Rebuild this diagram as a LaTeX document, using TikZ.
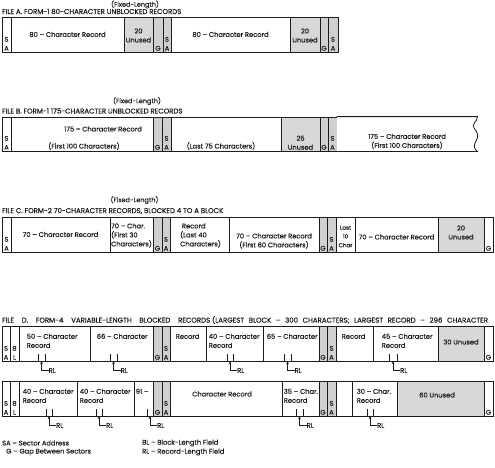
\documentclass[tikz,border=0pt]{standalone}
\usepackage{fontspec}
\setmainfont{Poppins}[FakeBold=0.4]
\usetikzlibrary{arrows.meta, fit, calc}
\definecolor{inkc}{RGB}{28,28,28}
\definecolor{unusedc}{RGB}{216,216,216}
\definecolor{gapc}{RGB}{208,208,208}
\tikzset{
  cellbox/.style={rectangle, draw=inkc, line width=0.8pt, inner sep=0pt, fill=white},
  unused/.style={cellbox, fill=unusedc},
  gapcell/.style={cellbox, fill=gapc},
  txt/.style={font=\fontsize{6.7}{9}\selectfont, text=inkc, inner sep=0pt, align=center},
  ltxt/.style={txt, align=left},
  tinytxt/.style={txt, font=\fontsize{5.6}{8.8}\selectfont},
  head/.style={font=\fontsize{7}{8}\selectfont, text=inkc, inner sep=0pt, anchor=west},
  fixlbl/.style={font=\fontsize{6.5}{8}\selectfont, text=inkc, inner sep=0pt},
  legend/.style={txt, anchor=west},
  tickln/.style={draw=inkc, line width=0.5pt},
  rlarr/.style={-{Stealth[length=3.2pt, width=2.6pt]}, draw=inkc, line width=0.55pt},
}
% current row: top and bottom edge
\newcommand{\rowat}[2]{\def\rtop{#1}\def\rbot{#2}}
\newcommand{\cel}[4][]{\node[cellbox, #1, fit={(#3,\rtop) (#4,\rbot)}] (#2) {};}
\newcommand{\cellow}[2]{\node[txt, anchor=south] (#1t) at ($(#1.south)+(0,-1.5)$) {#2};}
\newcommand{\celup}[3]{\node[ltxt, anchor=north west] (#1t) at ($(#1.north west)+(#2,8)$) {#3};}
% record-length field: ticks, arrow and label
\newcommand{\rlmark}[3]{%
  \foreach \tx in {#2} {\draw[tickln] (\tx,\rbot) -- (\tx,\rbot-7);}
  \coordinate (#1tip) at (#3,\rbot);
  \node[txt, anchor=west] (#1) at (#3+7,\rbot+9.5) {RL};
  \draw[rlarr] (#1.west) -| (#1tip);}

\begin{document}
\begin{tikzpicture}[x=1pt, y=-1pt]
  \useasboundingbox (0,0) rectangle (495,467);

  % file A
  \node[fixlbl] (fixa) at (135,4.5) {(Fixed-Length)};
  \node[head] (heada) at (2,11.5) {FILE A. FORM-1 80-CHARACTER UNBLOCKED RECORDS};
  \rowat{17}{52}
  \cel{asa1}{2}{11} \cellow{asa1}{S\\A}
  \cel{arec1}{11}{124} \node[txt] (arec1t) at (arec1) {80 -- Character Record};
  \cel[unused]{aunu1}{124}{153} \node[txt] (aunu1t) at ($(aunu1)+(0,1)$) {20\\Unused};
  \cel[gapcell]{agap1}{153}{163} \cellow{agap1}{G}
  \cel[gapcell]{asa2}{163}{171} \cellow{asa2}{S\\A}
  \cel{arec2}{171}{290} \node[txt] (arec2t) at (arec2) {80 -- Character Record};
  \cel[unused]{aunu2}{290}{320} \node[txt] (aunu2t) at ($(aunu2)+(0,1)$) {20\\Unused};
  \cel[gapcell]{agap2}{320}{328} \cellow{agap2}{G}
  \cel[gapcell]{asa3}{328}{338} \cellow{asa3}{S\\A}

  % file B
  \node[fixlbl] (fixb) at (137,101) {(Fixed-Length)};
  \node[head] (headb) at (2,111) {FILE B. FORM-1 175-CHARACTER UNBLOCKED RECORDS};
  \rowat{117}{151}
  \cel{bsa1}{2}{11} \cellow{bsa1}{S\\A}
  \cel{brec1}{11}{153}
  \node[txt] (brec1a) at (103,129) {175 -- Character Record};
  \node[txt] (brec1b) at (84,146) {(First 100 Characters)};
  \cel[gapcell]{bgap1}{153}{162} \cellow{bgap1}{G}
  \cel[gapcell]{bsa2}{162}{171} \cellow{bsa2}{S\\A}
  \cel{brec2}{171}{281} \node[txt] (brec2t) at (221,146) {(Last 75 Characters)};
  \cel[unused]{bunu1}{281}{320} \cellow{bunu1}{25\\Unused}
  \cel[gapcell]{bgap2}{320}{328} \cellow{bgap2}{G}
  \cel[gapcell]{bsa3}{328}{337} \cellow{bsa3}{S\\A}
  \cel[draw=none]{brec3}{337}{477}
  \node[txt] (brec3t) at (407,141.5) {175 -- Character Record\\(First 100 Characters)};
  \draw[draw=inkc, line width=0.8pt] (brec3.south west) -- (brec3.south east)
    .. controls (473,148) and (474,145) .. (476,141)
    .. controls (479,136) and (478,133) .. (474,128)
    .. controls (471,124) and (478,121) .. (brec3.north east) -- (brec3.north west);

  % file C
  \node[fixlbl] (fixc) at (134.5,200) {(Fixed-Length)};
  \node[head] (headc) at (2,211) {FILE C. FORM-2 70-CHARACTER RECORDS, BLOCKED 4 TO A BLOCK};
  \rowat{217}{252}
  \cel{csa1}{2}{11} \cellow{csa1}{S\\A}
  \cel{crec1}{11}{110} \node[txt] (crec1t) at (crec1) {70 -- Character Record};
  \cel{crec2}{110}{153} \node[ltxt] (crec2t) at ($(crec2)+(0,1)$) {70 -- Char.\\(First 30\\Characters)};
  \cel[gapcell]{cgap1}{153}{162} \cellow{cgap1}{G}
  \cel[gapcell]{csa2}{162}{170} \cellow{csa2}{S\\A}
  \cel{crec3}{170}{229} \node[ltxt] (crec3t) at ($(crec3)+(1,1)$) {\ Record\\(Last 40\\Characters)};
  \cel{crec4}{229}{319} \node[txt] (crec4t) at (274,241) {70 -- Character Record\\(First 60 Characters)};
  \cel[gapcell]{cgap2}{319}{327} \cellow{cgap2}{G}
  \cel[gapcell]{csa3}{327}{336} \cellow{csa3}{S\\A}
  \cel{crec5}{336}{355} \node[tinytxt] (crec5t) at ($(crec5)+(0,2)$) {Last\\10\\Char};
  \cel{crec6}{355}{438} \node[txt] (crec6t) at (396.5,237) {70 -- Character Record};
  \cel[unused]{cunu1}{438}{484} \node[txt] (cunu1t) at (461,232.5) {20\\Unused};
  \cel{cgap3}{484}{493} \cellow{cgap3}{G}

  % file D, first track
  \node[head] (headd) at (2,320) {\makebox[208pt][s]{FILE D. FORM-4 VARIABLE-LENGTH BLOCKED RECORDS}
    \makebox[276pt][s]{(LARGEST BLOCK -- 300 CHARACTERS; LARGEST RECORD -- 296 CHARACTER}};
  \rowat{326}{361}
  \cel{dsa1}{2}{10} \cellow{dsa1}{S\\A}
  \cel{dbl1}{10}{19} \cellow{dbl1}{B\\L}
  \cel{drec1}{19}{90} \celup{drec1}{8}{50 -- Character\\Record}
  \cel{drec2}{90}{153} \celup{drec2}{7}{66 -- Character}
  \cel[gapcell]{dgap1}{153}{162} \cellow{dgap1}{G}
  \cel[gapcell]{dsa2}{162}{170} \cellow{dsa2}{S\\A}
  \cel{drec3}{170}{206} \celup{drec3}{6}{Record}
  \cel{drec4}{206}{263} \celup{drec4}{3}{40 -- Character\\Record}
  \cel{drec5}{263}{319} \celup{drec5}{4}{65 -- Character}
  \cel[gapcell]{dgap2}{319}{327} \cellow{dgap2}{G}
  \cel[gapcell]{dsa3}{327}{336} \cellow{dsa3}{S\\A}
  \cel{drec6}{336}{373} \celup{drec6}{6}{Record}
  \cel{drec7}{373}{438} \celup{drec7}{9}{45 -- Character\\Record}
  \cel[unused]{dunu1}{438}{484} \node[txt] (dunu1t) at (461,342) {30 Unused};
  \cel{dgap3}{484}{493} \cellow{dgap3}{G}
  \rlmark{rl1}{38,45}{41.5}
  \rlmark{rl2}{110,117}{113.5}
  \rlmark{rl3}{227,233}{230}
  \rlmark{rl4}{284,291}{287.5}
  \rlmark{rl5}{389,397}{393}

  % file D, second track
  \rowat{381}{416}
  \cel{esa1}{2}{10} \cellow{esa1}{S\\A}
  \cel{ebl1}{10}{19} \cellow{ebl1}{B\\L}
  \cel{erec1}{19}{77} \celup{erec1}{4}{40 -- Character\\Record}
  \cel{erec2}{77}{134} \celup{erec2}{3}{40 -- Character\\Record}
  \cel{erec3}{134}{153} \celup{erec3}{2}{91 --}
  \cel[gapcell]{egap1}{153}{162} \cellow{egap1}{G}
  \cel[gapcell]{esa2}{162}{170} \cellow{esa2}{S\\A}
  \cel{erec4}{170}{282} \node[txt] (erec4t) at (222,394) {Character Record};
  \cel{erec5}{282}{319} \celup{erec5}{2}{35 -- Char.\\Record}
  \cel[gapcell]{egap2}{319}{327} \cellow{egap2}{G}
  \cel[gapcell]{esa3}{327}{336} \cellow{esa3}{S\\A}
  \cel{erec6}{336}{352}
  \cel{erec7}{352}{397} \celup{erec7}{5}{30 -- Char.\\Record}
  \cel[unused]{eunu1}{397}{484} \node[txt] (eunu1t) at (437,395) {60 Unused};
  \cel{egap3}{484}{493} \cellow{egap3}{G}
  \rlmark{rl6}{46,52}{49}
  \rlmark{rl7}{96,102}{99}
  \rlmark{rl8}{147}{150}
  \rlmark{rl9}{296,303}{299.5}
  \rlmark{rl10}{367,373}{370}

  % key
  \node[legend] (keysa) at (2,443) {SA -- Sector Address};
  \node[legend] (keyg) at (6,452) {G -- Gap Between Sectors};
  \node[legend] (keybl) at (142,443) {BL -- Block-Length Field};
  \node[legend] (keyrl) at (142,452) {RL -- Record-Length Field};

\end{tikzpicture}
\end{document}
